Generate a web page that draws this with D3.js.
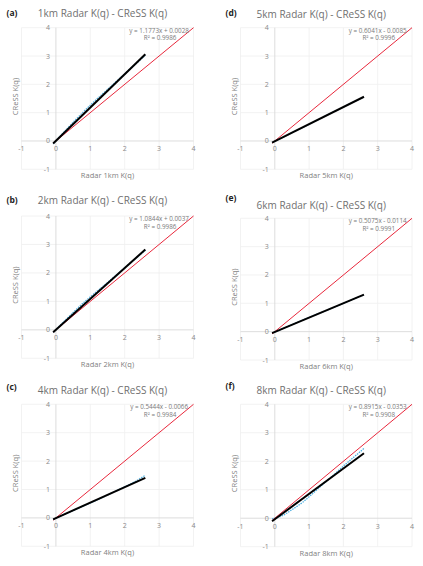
<!DOCTYPE html>
<html><head><meta charset="utf-8">
<script src="https://cdn.jsdelivr.net/npm/d3@7"></script>
<style>
html,body{margin:0;padding:0;background:#fff;}
svg{display:block;}
</style></head>
<body>
<script>
// ---- data ----
const panelLabels = ["(a)", "(b)", "(c)", "(d)", "(e)", "(f)"];
const resolutions = ["1km", "2km", "4km", "5km", "6km", "8km"];
const slopes = [1.1773, 1.0844, 0.5444, 0.6041, 0.5075, 0.8915];
const intercepts = [0.0028, 0.0037, -0.0066, -0.0085, -0.0114, -0.0353];
const r2Values = ["0.9986", "0.9986", "0.9984", "0.9996", "0.9991", "0.9908"];
const radarK = [-0.08, 0.2, 0.5, 0.8, 1.1, 1.4, 1.7, 2.0, 2.3, 2.6];
const cressK1km = [-0.10, 0.27, 0.66, 1.03, 1.38, 1.71, 2.04, 2.37, 2.70, 3.03];
const cressK2km = [-0.09, 0.25, 0.61, 0.95, 1.26, 1.56, 1.87, 2.18, 2.49, 2.80];
const cressK4km = [-0.06, 0.10, 0.26, 0.42, 0.58, 0.75, 0.92, 1.09, 1.28, 1.50];
const cressK5km = [-0.06, 0.11, 0.29, 0.47, 0.65, 0.84, 1.02, 1.20, 1.38, 1.56];
const cressK6km = [-0.05, 0.09, 0.25, 0.40, 0.55, 0.70, 0.85, 1.00, 1.15, 1.30];
const cressK8km = [-0.02, 0.08, 0.30, 0.55, 0.86, 1.19, 1.50, 1.83, 2.14, 2.45];
const cressSeries = [cressK1km, cressK2km, cressK4km, cressK5km, cressK6km, cressK8km];
const trendRange = [-0.08, 2.6];
const oneToOneRange = [-0.08, 4];
const tickValues = [-1, 0, 1, 2, 3, 4];
const axisDomain = [-1, 4];

// ---- layout (pixel positions of x=-1, x=4, y=4, y=-1) ----
const layout = [
  {x0: 21.5, x1: 193.5, yTop: 27.7, yBot: 169.3, titleY: 17, labY: 16},
  {x0: 21.5, x1: 193.5, yTop: 216, yBot: 358.3, titleY: 204, labY: 203},
  {x0: 21.5, x1: 193.5, yTop: 404.3, yBot: 546.3, titleY: 393.5, labY: 390},
  {x0: 240.5, x1: 412, yTop: 27.7, yBot: 169.3, titleY: 17.5, labY: 16},
  {x0: 240.5, x1: 412, yTop: 218.3, yBot: 360, titleY: 208.5, labY: 201},
  {x0: 240.5, x1: 412, yTop: 404.3, yBot: 546.7, titleY: 393.5, labY: 389}
];

const W = 423, H = 566;
const svg = d3.select("body").append("svg").attr("width", W).attr("height", H);
const FONT = "'Open Sans', 'Liberation Sans', sans-serif";

panelLabels.forEach((lab, i) => {
  const L = layout[i];
  const x = d3.scaleLinear().domain(axisDomain).range([L.x0, L.x1]);
  const y = d3.scaleLinear().domain(axisDomain).range([L.yBot, L.yTop]);
  const g = svg.append("g");

  // gridlines
  g.selectAll("line.gx").data(tickValues.filter(t => t !== 0)).join("line")
    .attr("x1", d => x(d)).attr("x2", d => x(d))
    .attr("y1", y(-1)).attr("y2", y(4))
    .attr("stroke", "#efefef").attr("stroke-width", 0.8);
  g.selectAll("line.gy").data(tickValues.filter(t => t !== 0)).join("line")
    .attr("x1", x(-1)).attr("x2", x(4))
    .attr("y1", d => y(d)).attr("y2", d => y(d))
    .attr("stroke", "#efefef").attr("stroke-width", 0.8);

  // axes at zero
  g.append("line").attr("x1", x(-1)).attr("x2", x(4)).attr("y1", y(0)).attr("y2", y(0))
    .attr("stroke", "#d9d9d9").attr("stroke-width", 0.9);
  g.append("line").attr("x1", x(0)).attr("x2", x(0)).attr("y1", y(-1)).attr("y2", y(4))
    .attr("stroke", "#d9d9d9").attr("stroke-width", 0.9);

  // tick labels
  g.selectAll("text.xt").data(tickValues).join("text")
    .attr("x", d => x(d)).attr("y", y(0) + 10.5)
    .attr("text-anchor", "middle").attr("font-family", FONT).attr("font-size", 7)
    .attr("fill", "#8a8a8a").text(d => d);
  g.selectAll("text.yt").data(tickValues).join("text")
    .attr("x", x(0) - 6).attr("y", d => y(d) + 2.5)
    .attr("text-anchor", "end").attr("font-family", FONT).attr("font-size", 7)
    .attr("fill", "#8a8a8a").text(d => d);

  // data series (light blue)
  const pts = radarK.map((r, k) => [r, cressSeries[i][k]]);
  g.append("path").datum(pts)
    .attr("d", d3.line().x(d => x(d[0])).y(d => y(d[1])).curve(d3.curveMonotoneX))
    .attr("fill", "none").attr("stroke", "#4fb0e0").attr("stroke-width", 1.3)
    .attr("stroke-dasharray", "1.5,1");

  // 1:1 line (red)
  g.append("line")
    .attr("x1", x(oneToOneRange[0])).attr("y1", y(oneToOneRange[0]))
    .attr("x2", x(oneToOneRange[1])).attr("y2", y(oneToOneRange[1]))
    .attr("stroke", "#e8283c").attr("stroke-width", 1);

  // trendline (black)
  const tl = trendRange.map(r => [r, slopes[i] * r + intercepts[i]]);
  g.append("path").datum(tl)
    .attr("d", d3.line().x(d => x(d[0])).y(d => y(d[1])))
    .attr("fill", "none").attr("stroke", "#000").attr("stroke-width", 2);

  // equation text
  const sign = intercepts[i] >= 0 ? "+" : "-";
  const eqX = x(3.0);
  const eqY = y(3.9);
  g.append("text").attr("x", eqX).attr("y", eqY + 2)
    .attr("text-anchor", "middle").attr("font-family", FONT).attr("font-size", 6.3)
    .attr("fill", "#7a7a7a")
    .text(`y = ${slopes[i].toFixed(4)}x ${sign} ${Math.abs(intercepts[i]).toFixed(4)}`);
  g.append("text").attr("x", eqX + 1).attr("y", eqY + 9.8)
    .attr("text-anchor", "middle").attr("font-family", FONT).attr("font-size", 6.3)
    .attr("fill", "#7a7a7a")
    .text(`R² = ${r2Values[i]}`);

  // title
  const cx = (L.x0 + L.x1) / 2;
  g.append("text").attr("x", cx - 5).attr("y", L.titleY)
    .attr("text-anchor", "middle").attr("font-family", FONT).attr("font-size", 10)
    .attr("fill", "#707070")
    .text(`${resolutions[i]} Radar K(q) - CReSS K(q)`);

  // panel label
  g.append("text").attr("x", L.x0 - 15).attr("y", L.labY)
    .attr("font-family", FONT).attr("font-size", 8.5).attr("font-weight", "bold")
    .attr("fill", "#222").text(lab);

  // axis titles
  g.append("text").attr("x", cx).attr("y", L.yBot + 9)
    .attr("text-anchor", "middle").attr("font-family", FONT).attr("font-size", 7.5)
    .attr("fill", "#7f7f7f").text(`Radar ${resolutions[i]} K(q)`);
  const ty = (L.yTop + L.yBot) / 2 - 2;
  g.append("text").attr("transform", `translate(${L.x0 - 4},${ty}) rotate(-90)`)
    .attr("text-anchor", "middle").attr("font-family", FONT).attr("font-size", 7.5)
    .attr("fill", "#7f7f7f").text("CReSS K(q)");
});
</script>
</body></html>
